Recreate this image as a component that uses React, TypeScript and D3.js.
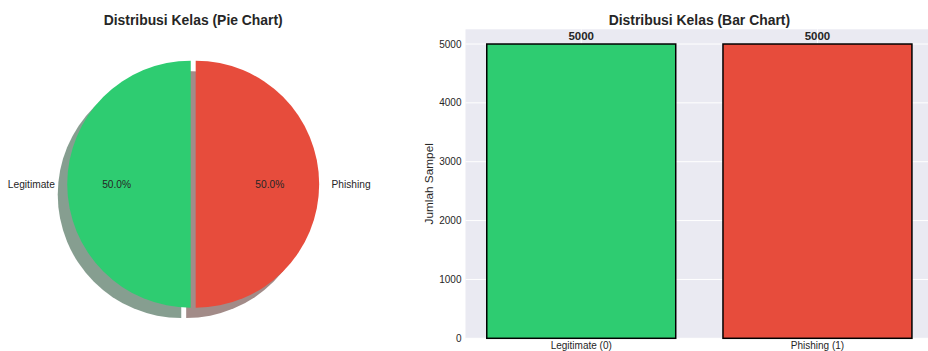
import React, { useEffect } from "react";
import * as d3 from "d3";

// Class distribution of the dataset
const classNames = ["Legitimate", "Phishing"];
const barCategories = ["Legitimate (0)", "Phishing (1)"];
const classCounts = [5000, 5000];
const classColors = ["#2ecc71", "#e74c3c"];
const yTicks = [0, 1000, 2000, 3000, 4000, 5000];

const W = 928;
const H = 351;
const FONT = "'Liberation Sans', Arial, sans-serif";
const TEXT = "#262626";

// pie layout
const PIE_CX = 193.2;
const PIE_CY = 184.2;
const PIE_R = 123.5;
const EXPLODE = 0.02;
const SHADOW_DX = -9.5;
const SHADOW_DY = 10.3;

// bar axes
const AX_LEFT = 465.5;
const AX_RIGHT = 933.2;
const AX_TOP = 29.3;
const AX_BOTTOM = 338.3;

function shade(c: string) {
  const col = d3.rgb(c);
  return d3.rgb(col.r * 0.3, col.g * 0.3, col.b * 0.3).toString();
}

export default function App() {
  useEffect(() => {
    document.body.style.margin = "0";
  }, []);

  const total = d3.sum(classCounts);
  // counter-clockwise from 12 o'clock
  const slices = d3
    .pie<number>()
    .sort(null)
    .startAngle(0)
    .endAngle(-2 * Math.PI)(classCounts);
  const arc = d3.arc<any>().innerRadius(0).outerRadius(PIE_R);

  const wedges = slices.map((s, i) => {
    const mid = (s.startAngle + s.endAngle) / 2;
    const ux = Math.sin(mid);
    const uy = -Math.cos(mid);
    const cx = PIE_CX + ux * EXPLODE * PIE_R;
    const cy = PIE_CY + uy * EXPLODE * PIE_R;
    return {
      d: arc({ startAngle: s.startAngle, endAngle: s.endAngle }) as string,
      cx,
      cy,
      ux,
      uy,
      color: classColors[i],
      name: classNames[i],
      pct: ((classCounts[i] / total) * 100).toFixed(1) + "%",
    };
  });

  const x = d3
    .scaleBand<string>()
    .domain(barCategories)
    .range([AX_LEFT, AX_RIGHT])
    .paddingInner(0.2)
    .paddingOuter(0.09);
  const y = d3.scaleLinear().domain([0, 5250]).range([AX_BOTTOM, AX_TOP]);

  return (
    <svg width={W} height={H} style={{ display: "block" }} fontFamily={FONT}>
      <rect width={W} height={H} fill="#ffffff" />

      {/* Pie chart */}
      <text x={PIE_CX} y={25} textAnchor="middle" fontSize={13.9} fontWeight="bold" fill={TEXT}>
        Distribusi Kelas (Pie Chart)
      </text>
      {wedges.map((w, i) => (
        <path
          key={"sh" + i}
          d={w.d}
          transform={`translate(${w.cx + SHADOW_DX},${w.cy + SHADOW_DY})`}
          fill={shade(w.color)}
          fillOpacity={0.5}
        />
      ))}
      {wedges.map((w, i) => (
        <path key={"w" + i} d={w.d} transform={`translate(${w.cx},${w.cy})`} fill={w.color} />
      ))}
      {wedges.map((w, i) => (
        <g key={"l" + i} fontSize={10.2} fill={TEXT}>
          <text
            x={w.cx + w.ux * PIE_R * 1.1}
            y={w.cy + w.uy * PIE_R * 1.1}
            dy="0.35em"
            textAnchor={w.ux < 0 ? "end" : "start"}
          >
            {w.name}
          </text>
          <text x={w.cx + w.ux * PIE_R * 0.6} y={w.cy + w.uy * PIE_R * 0.6} dy="0.35em" textAnchor="middle">
            {w.pct}
          </text>
        </g>
      ))}

      {/* Bar chart */}
      <text x={(AX_LEFT + AX_RIGHT) / 2} y={25} textAnchor="middle" fontSize={13.9} fontWeight="bold" fill={TEXT}>
        Distribusi Kelas (Bar Chart)
      </text>
      <rect x={AX_LEFT} y={AX_TOP} width={AX_RIGHT - AX_LEFT} height={AX_BOTTOM - AX_TOP} fill="#eaeaf2" />
      {yTicks.map((t) => (
        <line key={"gy" + t} x1={AX_LEFT} x2={AX_RIGHT} y1={y(t)} y2={y(t)} stroke="#ffffff" strokeWidth={1} />
      ))}
      {barCategories.map((c) => {
        const cx = (x(c) as number) + x.bandwidth() / 2;
        return <line key={"gx" + c} x1={cx} x2={cx} y1={AX_TOP} y2={AX_BOTTOM} stroke="#ffffff" strokeWidth={1} />;
      })}
      {barCategories.map((c, i) => (
        <rect
          key={"b" + c}
          x={x(c) as number}
          y={y(classCounts[i])}
          width={x.bandwidth()}
          height={y(0) - y(classCounts[i])}
          fill={classColors[i]}
          stroke="#000000"
          strokeWidth={1.5}
        />
      ))}
      {barCategories.map((c, i) => (
        <text
          key={"v" + c}
          x={(x(c) as number) + x.bandwidth() / 2}
          y={y(classCounts[i]) - 4}
          textAnchor="middle"
          fontSize={11.5}
          fontWeight="bold"
          fill={TEXT}
        >
          {classCounts[i]}
        </text>
      ))}
      {yTicks.map((t) => (
        <text key={"ty" + t} x={AX_LEFT - 4} y={y(t)} dy="0.35em" textAnchor="end" fontSize={10} fill={TEXT}>
          {t}
        </text>
      ))}
      {barCategories.map((c) => (
        <text
          key={"tx" + c}
          x={(x(c) as number) + x.bandwidth() / 2}
          y={AX_BOTTOM + 11}
          textAnchor="middle"
          fontSize={10}
          fill={TEXT}
        >
          {c}
        </text>
      ))}
      <text
        transform={`translate(${429},${(AX_TOP + AX_BOTTOM) / 2}) rotate(-90)`}
        textAnchor="middle"
        dy="0.35em"
        fontSize={11.8}
        fill={TEXT}
      >
        Jumlah Sampel
      </text>
    </svg>
  );
}
